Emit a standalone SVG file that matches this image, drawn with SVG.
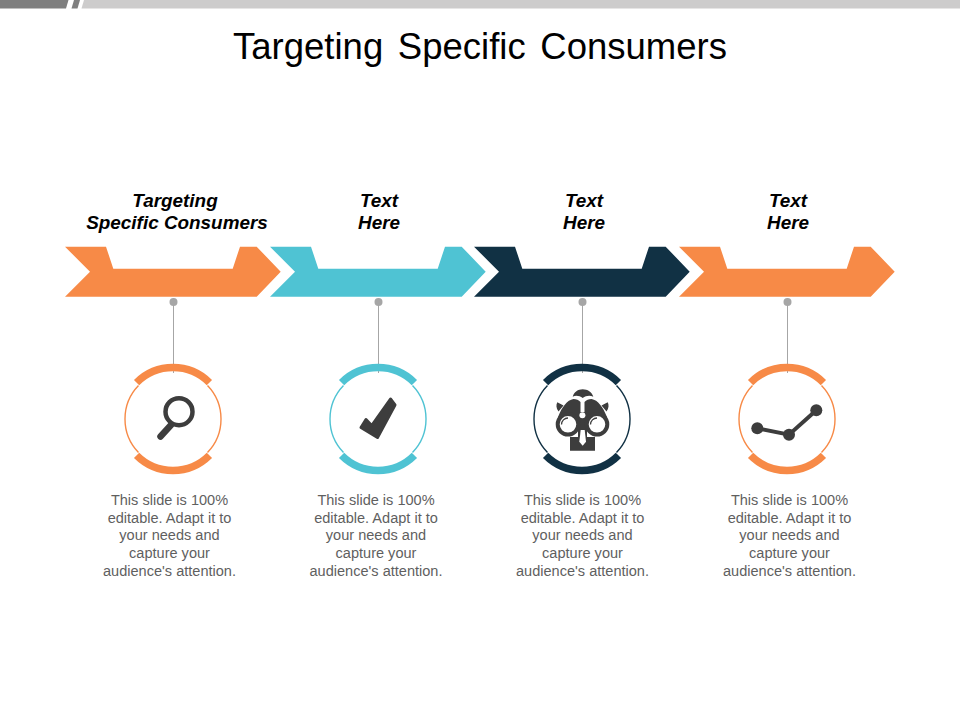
<svg xmlns="http://www.w3.org/2000/svg" width="960" height="720" viewBox="0 0 960 720">
<style>
.title{font:36.500px "Liberation Sans",Arial,sans-serif;fill:#000;text-anchor:middle;word-spacing:4.500px}
.head{font:italic bold 18.9px "Liberation Sans",Arial,sans-serif;fill:#000;text-anchor:middle}
.body{font:14.55px "Liberation Sans",Arial,sans-serif;fill:#5f5f5f;text-anchor:middle}
.thick{fill:none;stroke-width:7.500}
.thin{fill:none;stroke-width:1.4}
.orange{fill:#f78a47}.cyan{fill:#4fc3d3}.navy{fill:#113144}
.so{stroke:#f78a47}.sc{stroke:#4fc3d3}.sn{stroke:#113144}
.ic{fill:#3d3d3d}
.link{stroke:#a6a6a6;stroke-width:1;fill:none}
.dot{fill:#a6a6a6}
</style>
<defs>
<path id="arrow" d="M65 246.7H106L113.3 268.7H232.7L240 246.7H256.7L280.7 271.7L256.7 296.7H65L90 271.7Z"/>
<g id="ringThin"><path d="M34.5-33.5A48.3 48.3 0 0 1 34.5 33.5M-34.5 33.5A48.3 48.3 0 0 1-34.5-33.5"/></g>
<g id="ringThick"><path d="M-36.4-36.4A51.5 51.5 0 0 1 36.4-36.4M-36.4 36.4A51.5 51.5 0 0 0 36.4 36.4"/></g>
</defs>
<g id="header">
<path d="M0 0H68.5L66 8.5H0Z" fill="#7f7f7f"/>
<path d="M74 0H80L77.5 8.5H71.500Z" fill="#7f7f7f"/>
<path d="M84 0H960V8.500H81.500Z" fill="#cdcccc"/>
</g>
<text class="title" x="480" y="59">Targeting Specific Consumers</text>
<g id="connectors">
<path class="link" d="M173.500 302V373M378.500 302V373M582.500 302V373M787.500 302V373"/>
<circle class="dot" cx="173.500" cy="302" r="4"/><circle class="dot" cx="378.500" cy="302" r="4"/><circle class="dot" cx="582.500" cy="302" r="4"/><circle class="dot" cx="787.500" cy="302" r="4"/>
</g>
<g id="node1">
<text class="head" x="175" y="206.500">Targeting</text><text class="head" x="177" y="229">Specific Consumers</text>
<use href="#arrow" class="orange"/>
<g transform="translate(173 419)"><use href="#ringThin" class="thin so"/><use href="#ringThick" class="thick so"/></g>
<circle cx="179" cy="411.700" r="13.500" fill="none" stroke="#3d3d3d" stroke-width="4.500"/>
<path d="M160.500 436.500L171 425" fill="none" stroke="#3d3d3d" stroke-width="6.500" stroke-linecap="round"/>
<text class="body"><tspan x="169.500" y="505">This slide is 100%</tspan><tspan x="169.500" y="523">editable. Adapt it to</tspan><tspan x="169.500" y="540">your needs and</tspan><tspan x="169.500" y="558">capture your</tspan><tspan x="169.500" y="576">audience's attention.</tspan></text>
</g>
<g id="node2">
<text class="head" x="379" y="206.500">Text</text><text class="head" x="379" y="229">Here</text>
<use href="#arrow" x="205" class="cyan"/>
<g transform="translate(378 419)"><use href="#ringThin" class="thin sc"/><use href="#ringThick" class="thick sc"/></g>
<path class="ic" stroke="#3d3d3d" stroke-width="3" stroke-linejoin="round" d="M366 419.500L371.700 425.500L390.500 399L395 405L377.500 437.500L361 427.500Z"/>
<text class="body"><tspan x="376" y="505">This slide is 100%</tspan><tspan x="376" y="523">editable. Adapt it to</tspan><tspan x="376" y="540">your needs and</tspan><tspan x="376" y="558">capture your</tspan><tspan x="376" y="576">audience's attention.</tspan></text>
</g>
<g id="node3">
<text class="head" x="584" y="206.500">Text</text><text class="head" x="584" y="229">Here</text>
<use href="#arrow" x="409" class="navy"/>
<g transform="translate(582 419)"><use href="#ringThin" class="thin sn"/><use href="#ringThick" class="thick sn"/></g>
<path class="ic" d="M572.700 396.700C574 392 578 389.300 582.700 389.300C587.500 389.300 592 392 593.300 396.700C590 395 586 395.500 582.700 398C579.500 395.500 575.500 395 572.700 396.700Z"/>
<path class="ic" d="M558 417C562 407 567 400 573.500 399C576 399 579 400 580.500 402V412H584.500V402C586 400 589 399 591.500 399C598 400 603 407 607 417L587 430V437H595V450.700H570V437H578V430Z"/>
<path class="ic" d="M557.300 402.300L563.500 405.500L558.500 411.500C556 408 556 405 557.300 402.300ZM607.700 402.300L601.500 405.500L606.500 411.500C609 408 609 405 607.700 402.300Z"/>
<circle cx="568" cy="424.300" r="10.300" fill="#fff" stroke="#3d3d3d" stroke-width="4"/>
<circle cx="597" cy="424.300" r="10.300" fill="#fff" stroke="#3d3d3d" stroke-width="4"/>
<path d="M561.500 424.500A6.500 6.500 0 0 1 568 418M590.500 424.500A6.500 6.500 0 0 1 597 418" fill="none" stroke="#3d3d3d" stroke-width="1.300"/>
<circle cx="582.400" cy="415.300" r="3" fill="#fff"/>
<path d="M580.700 430H584.700L586 441.700L582.700 445.700L579.300 441.700Z" fill="#fff"/>
<text class="body"><tspan x="582.500" y="505">This slide is 100%</tspan><tspan x="582.500" y="523">editable. Adapt it to</tspan><tspan x="582.500" y="540">your needs and</tspan><tspan x="582.500" y="558">capture your</tspan><tspan x="582.500" y="576">audience's attention.</tspan></text>
</g>
<g id="node4">
<text class="head" x="788" y="206.500">Text</text><text class="head" x="788" y="229">Here</text>
<use href="#arrow" x="614" class="orange"/>
<g transform="translate(787 419)"><use href="#ringThin" class="thin so"/><use href="#ringThick" class="thick so"/></g>
<path d="M757.300 428.300L789 434.700L816.300 410.300" fill="none" stroke="#3d3d3d" stroke-width="4"/>
<circle class="ic" cx="757.300" cy="428.300" r="6"/><circle class="ic" cx="789" cy="434.700" r="6"/><circle class="ic" cx="816.300" cy="410.300" r="6"/>
<text class="body"><tspan x="789.500" y="505">This slide is 100%</tspan><tspan x="789.500" y="523">editable. Adapt it to</tspan><tspan x="789.500" y="540">your needs and</tspan><tspan x="789.500" y="558">capture your</tspan><tspan x="789.500" y="576">audience's attention.</tspan></text>
</g>
</svg>
